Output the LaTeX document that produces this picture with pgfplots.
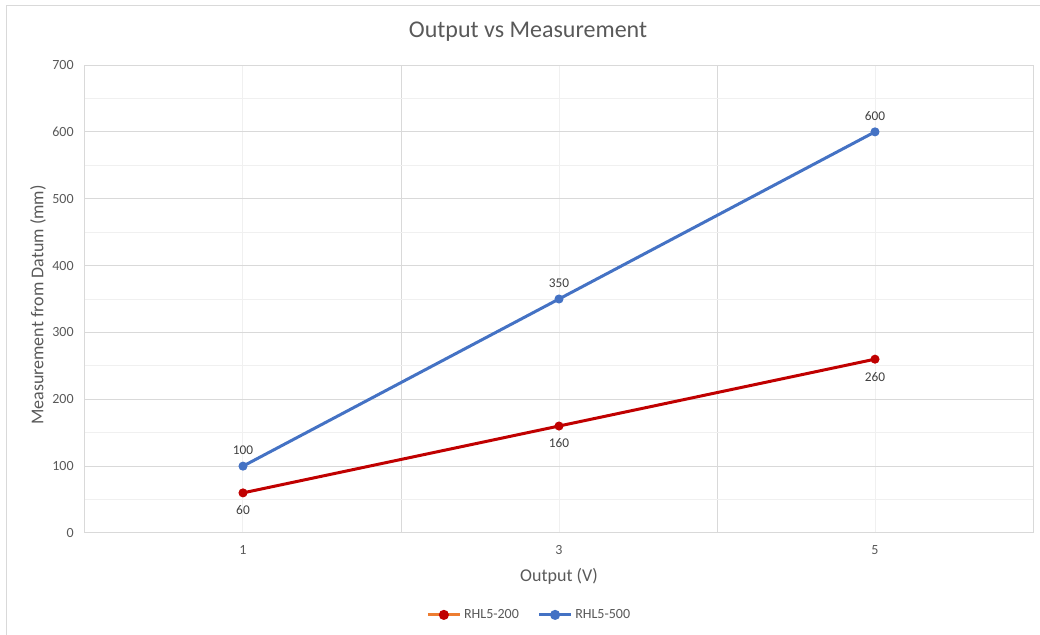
\documentclass[border=0pt]{standalone}
\usepackage{pgfplots}
\pgfplotsset{compat=1.18}
\usepackage{fontspec}
\setmainfont{Carlito}
\definecolor{txt}{HTML}{595959}
\definecolor{lbl}{HTML}{404040}
\definecolor{grd}{HTML}{D9D9D9}
\definecolor{mgrd}{HTML}{F0F0F0}
\definecolor{cblue}{HTML}{4472C4}
\definecolor{cred}{HTML}{C00000}
\definecolor{corange}{HTML}{ED7D31}
\begin{document}
\begin{tikzpicture}
\begin{axis}[
  scale only axis, width=711pt, height=351pt,
  xmin=0, xmax=6, ymin=0, ymax=700,
  xtick={0,2,4,6}, minor xtick={1,3,5},
  extra x ticks={1,3,5}, extra x tick labels={1,3,5},
  extra x tick style={grid=none, major tick length=0pt},
  xticklabels={},
  ytick={0,100,...,700}, minor ytick={50,150,...,650},
  grid=both,
  major grid style={grd, line width=0.75pt},
  minor grid style={mgrd, line width=0.75pt},
  axis x line*=bottom,
  axis y line*=left,
  x axis line style={draw=grd, line width=0.75pt},
  y axis line style={draw=none},
  tick style={draw=none},
  major tick length=0pt, minor tick length=0pt,
  tick label style={color=txt, font=\fontsize{10.5}{12}\selectfont},
  yticklabel style={anchor=east, xshift=-5pt},
  xticklabel style={anchor=north, yshift=-6pt},
  /pgf/number format/assume math mode=true,
  xlabel={Output (V)}, ylabel={Measurement from Datum (mm)},
  label style={color=txt, font=\fontsize{13.5}{16}\selectfont},
  xlabel style={at={(axis description cs:0.5,-0.092)}, anchor=center},
  ylabel style={at={(axis description cs:-0.0496,0.487)}, anchor=center},
  legend style={at={(axis description cs:0.469,-0.175)}, anchor=center, draw=none, legend columns=2,
    font=\fontsize{10.5}{12}\selectfont, text=txt,
    /tikz/every even column/.append style={column sep=12pt}},
  legend cell align=left,
  nodes near coords,
  every node near coord/.append style={font=\fontsize{10}{12}\selectfont, color=lbl},
  clip=false,
]
\coordinate (O) at (rel axis cs:0,0);
\addplot[cred, line width=2.25pt, mark=*, mark size=3pt, mark options={solid, line width=0.75pt},
  every node near coord/.append style={anchor=north, yshift=-6pt},
  legend image code/.code={
    \draw[corange, line width=2.25pt] (0pt,0pt) -- (24pt,0pt);
    \fill[cred] (12pt,0pt) circle (2.6pt);}]
  coordinates {(1,60) (3,160) (5,260)};
\addlegendentry{RHL5-200}
\addplot[cblue, line width=2.25pt, mark=*, mark size=3pt, mark options={solid, line width=0.75pt},
  every node near coord/.append style={anchor=south, yshift=5pt},
  legend image code/.code={
    \draw[cblue, line width=2.25pt] (0pt,0pt) -- (24pt,0pt);
    \fill[cblue] (12pt,0pt) circle (2.6pt);}]
  coordinates {(1,100) (3,350) (5,600)};
\addlegendentry{RHL5-500}
\end{axis}
\pgfresetboundingbox
\path[use as bounding box] ([shift={(-63.75pt,-76.5pt)}]O) rectangle ([shift={(716.25pt,399.75pt)}]O);
\draw[grd, line width=0.75pt] ([shift={(-58.5pt,-80pt)}]O) -- ([shift={(-58.5pt,395.25pt)}]O) -- ([shift={(720pt,395.25pt)}]O);
\node[color=txt, font=\fontsize{18}{21}\selectfont, anchor=center] at ([shift={(332.25pt,375.75pt)}]O) {Output vs Measurement};
\end{tikzpicture}
\end{document}
